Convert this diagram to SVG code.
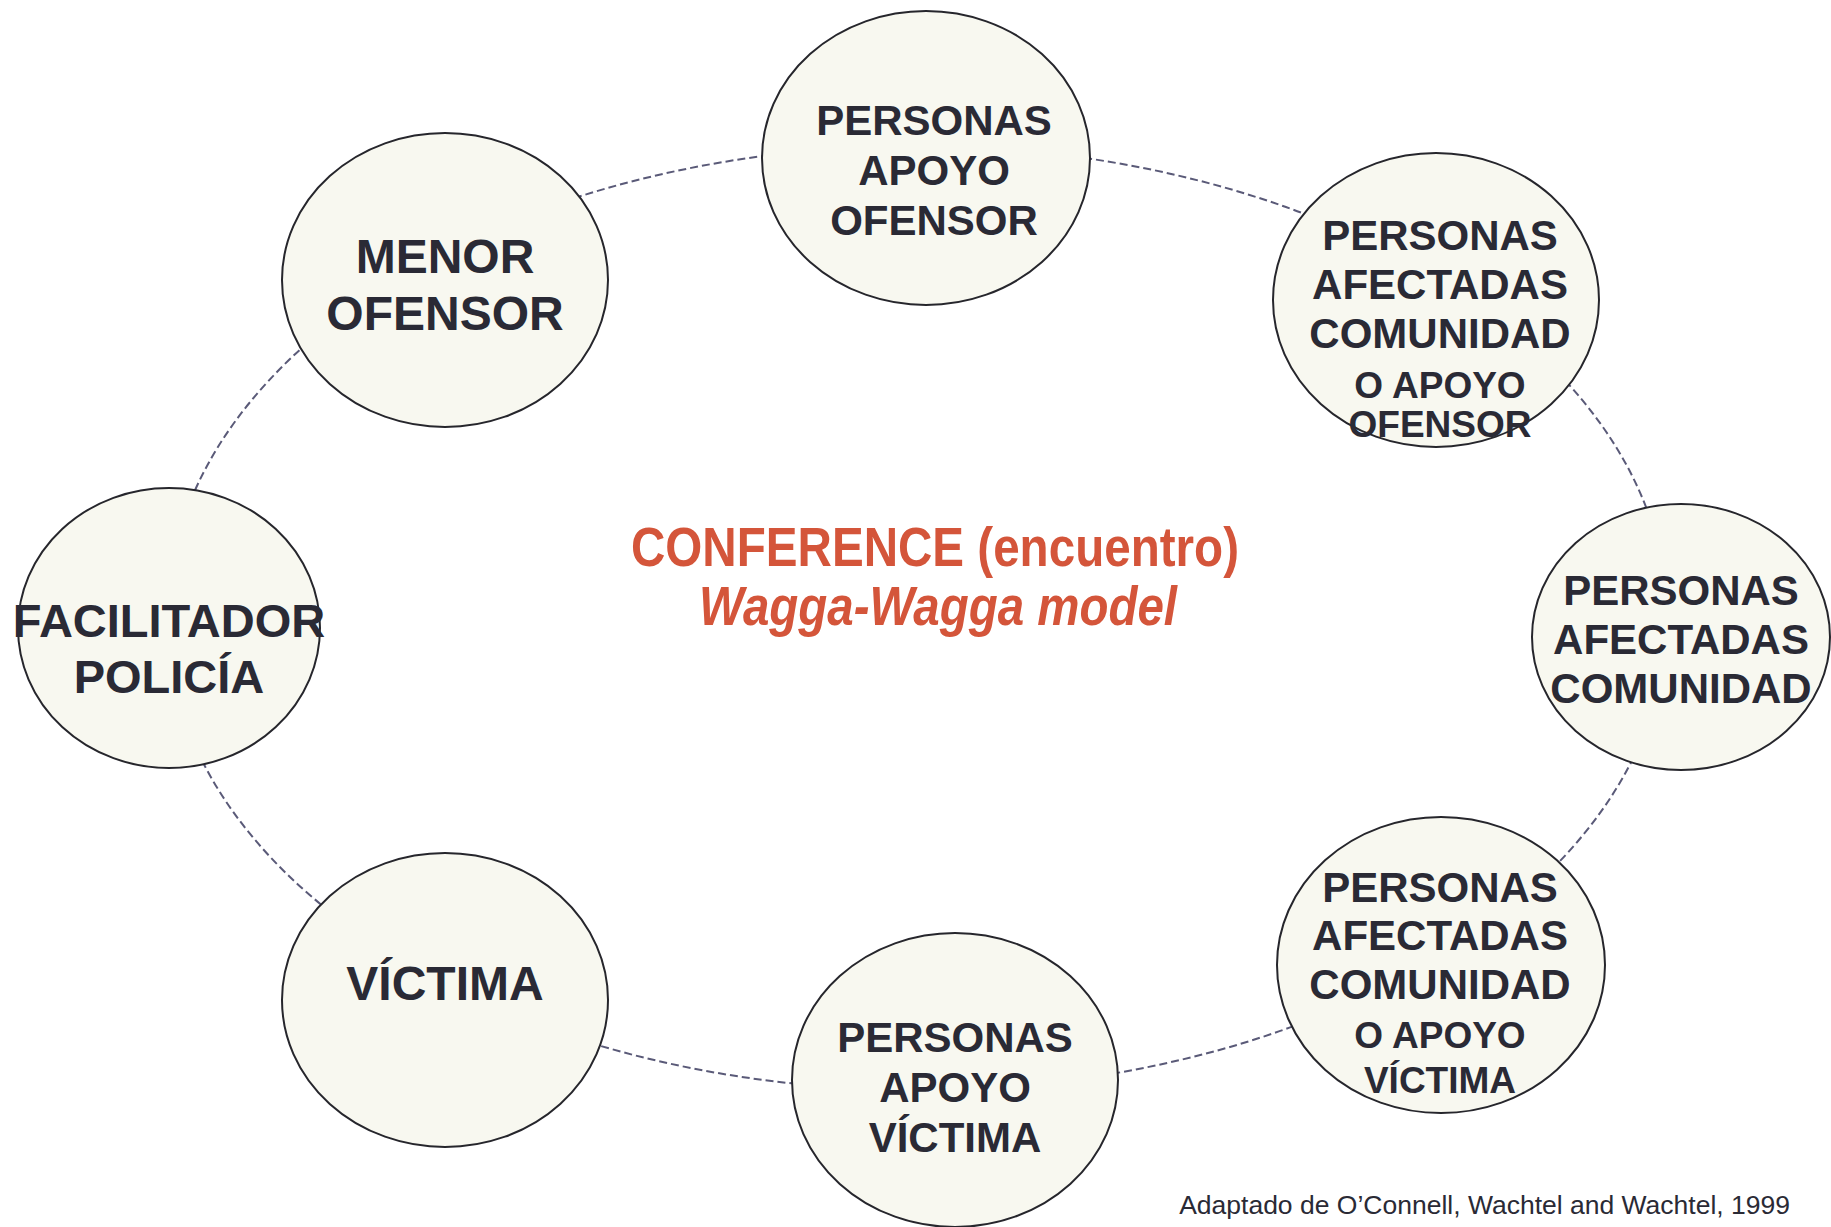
<svg xmlns="http://www.w3.org/2000/svg" width="1831" height="1227" viewBox="0 0 1831 1227">
<style>
.node{fill:#F8F8F0;stroke:#26262c;stroke-width:2}
.lbl{font-family:"Liberation Sans",Arial,sans-serif;font-weight:bold;fill:#2a2a35;text-anchor:middle}
.title{font-family:"Liberation Sans Narrow","Liberation Sans",Arial,sans-serif;font-weight:bold;fill:#D4553A;text-anchor:middle}
.conn{fill:none;stroke:#5a5a78;stroke-width:2;stroke-dasharray:8 4}
</style>
<rect width="1831" height="1227" fill="#ffffff"/>
<g id="connectors">
<ellipse class="conn" cx="917" cy="618" rx="750" ry="472"/>
</g>
<g id="node-apoyo-ofensor">
<ellipse class="node" cx="926" cy="158" rx="164" ry="147"/>
<text class="lbl" font-size="42"><tspan x="934" y="135">PERSONAS</tspan><tspan x="934" y="185">APOYO</tspan><tspan x="934" y="235">OFENSOR</tspan></text>
</g>
<g id="node-menor-ofensor">
<ellipse class="node" cx="445" cy="280" rx="163" ry="147"/>
<text class="lbl" font-size="48"><tspan x="445" y="273">MENOR</tspan><tspan x="445" y="330">OFENSOR</tspan></text>
</g>
<g id="node-afectadas-apoyo-ofensor">
<ellipse class="node" cx="1436" cy="300" rx="163" ry="147"/>
<text class="lbl" font-size="42"><tspan x="1440" y="250">PERSONAS</tspan><tspan x="1440" y="299">AFECTADAS</tspan><tspan x="1440" y="348">COMUNIDAD</tspan></text>
<text class="lbl" font-size="37"><tspan x="1440" y="398">O APOYO</tspan><tspan x="1440" y="437">OFENSOR</tspan></text>
</g>
<g id="node-facilitador">
<ellipse class="node" cx="169" cy="628" rx="151" ry="140"/>
<text class="lbl" font-size="47"><tspan x="169" y="637">FACILITADOR</tspan><tspan x="169" y="693">POLICÍA</tspan></text>
</g>
<g id="node-afectadas-comunidad">
<ellipse class="node" cx="1681" cy="637" rx="149" ry="133"/>
<text class="lbl" font-size="42"><tspan x="1681" y="605">PERSONAS</tspan><tspan x="1681" y="654">AFECTADAS</tspan><tspan x="1681" y="703">COMUNIDAD</tspan></text>
</g>
<g id="node-victima">
<ellipse class="node" cx="445" cy="1000" rx="163" ry="147"/>
<text class="lbl" font-size="48" x="445" y="1000">VÍCTIMA</text>
</g>
<g id="node-apoyo-victima">
<ellipse class="node" cx="955" cy="1080" rx="163" ry="147"/>
<text class="lbl" font-size="42"><tspan x="955" y="1052">PERSONAS</tspan><tspan x="955" y="1102">APOYO</tspan><tspan x="955" y="1152">VÍCTIMA</tspan></text>
</g>
<g id="node-afectadas-apoyo-victima">
<ellipse class="node" cx="1441" cy="965" rx="164" ry="148"/>
<text class="lbl" font-size="42"><tspan x="1440" y="902">PERSONAS</tspan><tspan x="1440" y="950">AFECTADAS</tspan><tspan x="1440" y="999">COMUNIDAD</tspan></text>
<text class="lbl" font-size="37"><tspan x="1440" y="1048">O APOYO</tspan><tspan x="1440" y="1093">VÍCTIMA</tspan></text>
</g>
<g id="title">
<text class="title" font-size="56" x="935" y="566" textLength="608" lengthAdjust="spacingAndGlyphs">CONFERENCE (encuentro)</text>
<text class="title" font-size="56" font-style="italic" x="938" y="625" textLength="478" lengthAdjust="spacingAndGlyphs">Wagga-Wagga model</text>
</g>
<text x="1790" y="1214" font-family="'Liberation Sans',Arial,sans-serif" font-size="26.5" fill="#2a2a35" text-anchor="end">Adaptado de O’Connell, Wachtel and Wachtel, 1999</text>
</svg>
